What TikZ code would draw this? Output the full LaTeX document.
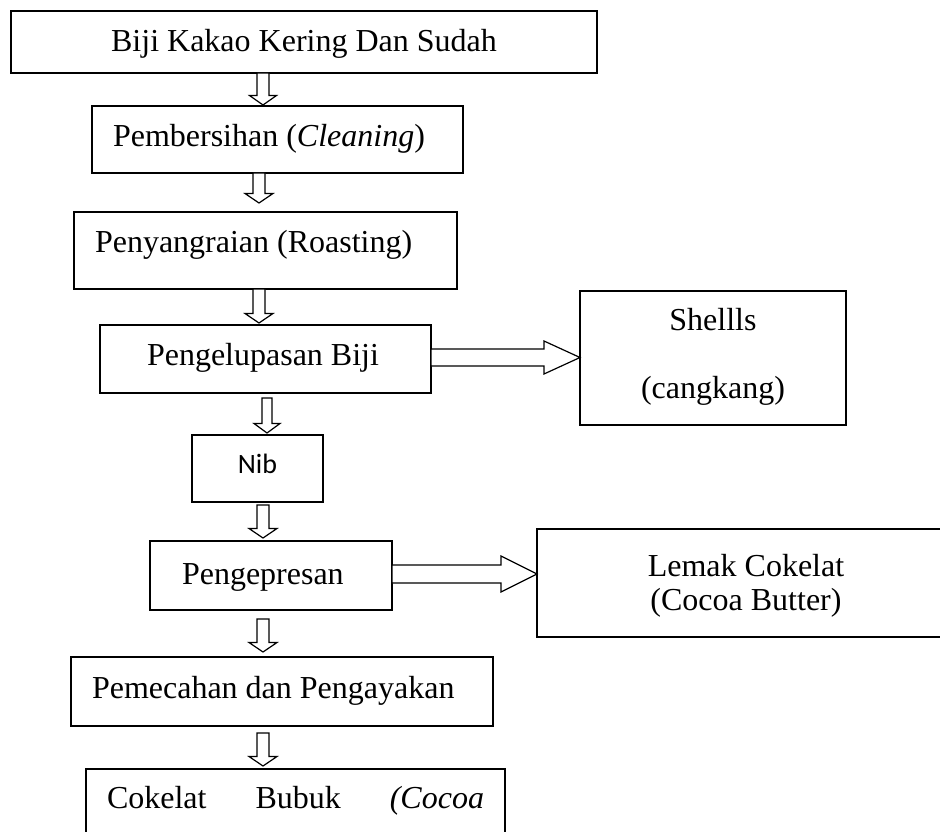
\documentclass[tikz,border=0pt]{standalone}
\usepackage{fontspec}
\setmainfont{Liberation Serif}
\newfontfamily\nibfont{Carlito}
\usetikzlibrary{calc}
\tikzset{
  box/.style={draw=black, line width=1.6pt, rectangle, inner sep=0pt, outer sep=0pt},
  txt/.style={inner sep=0pt, outer sep=0pt, font=\fontsize{32}{38}\selectfont},
  blk/.style={draw=black, line width=1.2pt, fill=white, line join=miter},
}
\newcommand\dnarrow[7]{%
  \draw[blk] let \p1=(#1.south), \p2=(#2.north) in
    (#3pt-#6pt,\y1-#4pt) -- (#3pt+#6pt,\y1-#4pt) -- (#3pt+#6pt,\y2+#5pt+9.5pt)
    -- (#3pt+#7pt,\y2+#5pt+9.5pt) -- (#3pt,\y2+#5pt) -- (#3pt-#7pt,\y2+#5pt+9.5pt)
    -- (#3pt-#6pt,\y2+#5pt+9.5pt) -- cycle;}
\newcommand\rtarrow[6]{%
  \draw[blk] let \p1=(#1.east), \p2=(#2.west) in
    (\x1,-#3pt+#4pt) -- (\x2-#6pt,-#3pt+#4pt) -- (\x2-#6pt,-#3pt+#5pt) -- (\x2,-#3pt)
    -- (\x2-#6pt,-#3pt-#5pt) -- (\x2-#6pt,-#3pt-#4pt) -- (\x1,-#3pt-#4pt) -- cycle;}
\begin{document}
\begin{tikzpicture}[x=1pt,y=-1pt]
\useasboundingbox (0,0) rectangle (940,832);
\clip (0,0) rectangle (940,832);
\fill[white] (0,0) rectangle (940,832);
% boxes
\node[box, minimum width=586pt, minimum height=62pt] (b1) at (304,42) {};
\node[box, minimum width=371pt, minimum height=67pt] (b2) at (277.5,139.5) {};
\node[box, minimum width=383pt, minimum height=77pt] (b3) at (265.5,250.5) {};
\node[box, minimum width=331pt, minimum height=68pt] (b4) at (265.5,359) {};
\node[box, minimum width=266pt, minimum height=134pt] (shells) at (713,358) {};
\node[box, minimum width=131pt, minimum height=67pt] (nib) at (257.5,468.5) {};
\node[box, minimum width=242pt, minimum height=69pt] (b5) at (271,575.5) {};
\node[box, minimum width=418pt, minimum height=108pt] (lemak) at (746,583) {};
\node[box, minimum width=422pt, minimum height=69pt] (b6) at (282,691.5) {};
\node[box, minimum width=419pt, minimum height=111pt] (b7) at (295.5,824.5) {};
% texts
\node[txt, anchor=base] (t1) at (304,52) {Biji Kakao Kering Dan Sudah};
\node[txt, anchor=base west] (t2) at (113,147) {Pembersihan (\textit{Cleaning})};
\node[txt, anchor=base west] (t3) at (95,252) {Penyangraian (Roasting)};
\node[txt, anchor=base west] (t4) at (147,365) {Pengelupasan Biji};
\node[txt, anchor=base] (t5a) at (713,330) {Shellls};
\node[txt, anchor=base] (t5b) at (713,398) {(cangkang)};
\node[inner sep=0pt, outer sep=0pt, font=\nibfont\fontsize{28}{34}\selectfont, anchor=base] (t6) at (257.5,473) {Nib};
\node[txt, anchor=base west] (t7) at (182,584) {Pengepresan};
\node[txt, anchor=base] (t8a) at (746,576) {Lemak Cokelat};
\node[txt, anchor=base] (t8b) at (746,610) {(Cocoa Butter)};
\node[txt, anchor=base west] (t9) at (92,698) {Pemecahan dan Pengayakan};
\node[txt, anchor=base west] (t10) at (107,808) {\hbox to 377pt{Cokelat\hfill Bubuk\hfill \textit{(Cocoa}}};
% down arrows
\dnarrow{b1}{b2}{263}{0}{1}{6}{13.5}
\dnarrow{b2}{b3}{259}{0}{9}{6}{14}
\dnarrow{b3}{b4}{259}{0}{2}{6}{14}
\dnarrow{b4}{nib}{267}{5}{2}{5}{13}
\dnarrow{nib}{b5}{263}{3}{3}{6}{14}
\dnarrow{b5}{b6}{263}{9}{5}{6}{14}
\dnarrow{b6}{b7}{263}{7}{3}{6}{14}
% right arrows
\rtarrow{b4}{shells}{357.5}{8.5}{16.5}{36}
\rtarrow{b5}{lemak}{574}{9}{18}{36}
\end{tikzpicture}
\end{document}
